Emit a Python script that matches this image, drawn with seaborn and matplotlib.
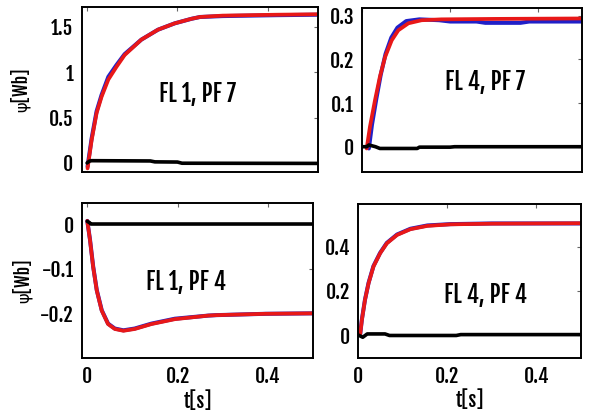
import numpy as np
import pandas as pd
import matplotlib
matplotlib.use("Agg")
import matplotlib.pyplot as plt
import seaborn as sns

# --- flux responses, FL 1 / PF 7 ---
tl_t_red = [0.001, 0.01, 0.021, 0.032, 0.047, 0.065, 0.083, 0.12, 0.157, 0.194, 0.231, 0.25, 0.30, 0.36, 0.42, 0.511]
tl_v_red = [-0.06, 0.25, 0.55, 0.73, 0.92, 1.06, 1.19, 1.36, 1.47, 1.54, 1.59, 1.61, 1.625, 1.63, 1.635, 1.64]
tl_t_blue = [0.001, 0.01, 0.021, 0.032, 0.047, 0.065, 0.083, 0.12, 0.157, 0.194, 0.231, 0.25, 0.30, 0.36, 0.42, 0.511]
tl_v_blue = [-0.04, 0.27, 0.57, 0.75, 0.95, 1.08, 1.20, 1.36, 1.47, 1.54, 1.59, 1.61, 1.62, 1.625, 1.63, 1.635]
tl_t_black = [0.0, 0.005, 0.01, 0.14, 0.15, 0.2, 0.21, 0.511]
tl_v_black = [0.0, 0.02, 0.025, 0.022, 0.012, 0.01, -0.003, -0.005]

# --- FL 4 / PF 7 ---
tr_t_red = [0.01, 0.0175, 0.029, 0.04, 0.052, 0.067, 0.082, 0.105, 0.135, 0.18, 0.3, 0.5]
tr_v_red = [-0.004, 0.046, 0.107, 0.16, 0.206, 0.244, 0.267, 0.283, 0.29, 0.292, 0.293, 0.294]
tr_t_blue = [0.015, 0.022, 0.032, 0.042, 0.053, 0.066, 0.08, 0.1, 0.13, 0.175, 0.2, 0.26, 0.28, 0.36, 0.38, 0.5]
tr_v_blue = [-0.004, 0.05, 0.11, 0.165, 0.213, 0.25, 0.273, 0.288, 0.292, 0.29, 0.287, 0.287, 0.284, 0.284, 0.287, 0.287]
tr_t_black = [0.0, 0.01, 0.015, 0.03, 0.04, 0.125, 0.13, 0.2, 0.21, 0.5]
tr_v_black = [0.0, 0.0, 0.004, 0.0, -0.004, -0.004, -0.001, -0.001, 0.0, 0.0]

# --- FL 1 / PF 4 ---
bl_t_red = [0.0, 0.006, 0.013, 0.021, 0.032, 0.046, 0.061, 0.08, 0.105, 0.142, 0.194, 0.268, 0.286, 0.395, 0.5]
bl_v_red = [0.007, -0.036, -0.096, -0.149, -0.194, -0.224, -0.235, -0.239, -0.235, -0.224, -0.213, -0.205, -0.204, -0.201, -0.2]
bl_t_blue = [0.0, 0.006, 0.013, 0.021, 0.032, 0.046, 0.061, 0.08, 0.105, 0.142, 0.194, 0.268, 0.286, 0.395, 0.5]
bl_v_blue = [0.007, -0.035, -0.095, -0.148, -0.193, -0.223, -0.234, -0.238, -0.234, -0.223, -0.212, -0.205, -0.204, -0.201, -0.2]
bl_t_black = [0.0, 0.005, 0.008, 0.5]
bl_v_black = [0.006, 0.003, 0.0, 0.0]

# --- FL 4 / PF 4 ---
br_t_red = [0.004, 0.008, 0.015, 0.023, 0.034, 0.049, 0.064, 0.087, 0.117, 0.155, 0.207, 0.3, 0.5]
br_v_red = [0.0, 0.068, 0.159, 0.234, 0.31, 0.37, 0.415, 0.453, 0.479, 0.494, 0.501, 0.504, 0.506]
br_t_blue = [0.004, 0.008, 0.015, 0.023, 0.034, 0.049, 0.064, 0.087, 0.117, 0.155, 0.207, 0.3, 0.5]
br_v_blue = [0.0, 0.07, 0.16, 0.236, 0.312, 0.372, 0.417, 0.455, 0.481, 0.496, 0.502, 0.505, 0.505]
br_t_black = [0.0, 0.01, 0.02, 0.06, 0.07, 0.22, 0.23, 0.5]
br_v_black = [0.0, -0.01, 0.005, 0.005, -0.002, -0.002, 0.002, 0.002]

panel_titles = ["FL 1, PF 7", "FL 4, PF 7", "FL 1, PF 4", "FL 4, PF 4"]
x_ticks = [0, 0.2, 0.4]
x_tick_labels = ["0", "0.2", "0.4"]
y_ticks = [[0, 0.5, 1, 1.5], [0, 0.1, 0.2, 0.3], [-0.2, -0.1, 0], [0, 0.2, 0.4]]
y_tick_labels = [["0", "0.5", "1", "1.5"], ["0", "0.1", "0.2", "0.3"],
                 ["-0.2", "-0.1", "0"], ["0", "0.2", "0.4"]]

sns.set_style("white")
FONT = ["Fjalla One", "Barlow Condensed", "Roboto Condensed", "DejaVu Sans"]
plt.rcParams["font.family"] = FONT
plt.rcParams["font.weight"] = "bold"
plt.rcParams["axes.unicode_minus"] = False
plt.rcParams["text.color"] = "black"
plt.rcParams["axes.labelcolor"] = "black"
plt.rcParams["xtick.labelcolor"] = "black"
plt.rcParams["ytick.labelcolor"] = "black"

fig = plt.figure(figsize=(5.94, 4.15), dpi=100)

# axes rectangles in figure fractions
rects = [
    [0.1375, 0.5855, 0.3978, 0.3976],
    [0.6099, 0.5855, 0.3699, 0.3952],
    [0.1386, 0.1373, 0.3884, 0.3735],
    [0.6032, 0.1373, 0.3749, 0.3711],
]
xlims = [(-0.012, 0.511), (0, 0.5), (-0.011, 0.5), (0, 0.5)]
ylims = [(-0.1, 1.72), (-0.058, 0.318), (-0.30, 0.047), (-0.104, 0.593)]
text_pos = [(0.49, 0.47), (0.56, 0.55), (0.45, 0.49), (0.57, 0.41)]

series = [
    (tl_t_blue, tl_v_blue, tl_t_red, tl_v_red, tl_t_black, tl_v_black),
    (tr_t_blue, tr_v_blue, tr_t_red, tr_v_red, tr_t_black, tr_v_black),
    (bl_t_blue, bl_v_blue, bl_t_red, bl_v_red, bl_t_black, bl_v_black),
    (br_t_blue, br_v_blue, br_t_red, br_v_red, br_t_black, br_v_black),
]

BLUE = "#2020c8"
RED = "#e81818"

for i, (rect, (tb, vb, tr, vr, tk, vk)) in enumerate(zip(rects, series)):
    ax = fig.add_axes(rect)
    sns.lineplot(x=tb, y=vb, ax=ax, color=BLUE, lw=2.9, sort=False)
    sns.lineplot(x=tr, y=vr, ax=ax, color=RED, lw=2.7, sort=False)
    sns.lineplot(x=tk, y=vk, ax=ax, color="black", lw=2.6, sort=False)
    ax.set_xlim(*xlims[i])
    ax.set_ylim(*ylims[i])
    ax.set_xticks(x_ticks)
    ax.set_yticks(y_ticks[i])
    ax.set_yticklabels(y_tick_labels[i], fontsize=14)
    if i >= 2:
        ax.set_xticklabels(x_tick_labels, fontsize=14)
        ax.set_xlabel("t[s]", fontsize=14)
        ax.xaxis.set_label_coords(0.5, -0.21)
    else:
        ax.set_xticklabels([])
        ax.set_xlabel("")
    if i in (0, 2):
        ax.set_ylabel("ψ[Wb]", fontsize=12.5, family=FONT)
        ax.yaxis.set_label_coords(-0.215, 0.5)
    else:
        ax.set_ylabel("")
    ax.tick_params(direction="in", length=3, width=0.8, color="#666666",
                   top=True, right=True, pad=6)
    for sp in ax.spines.values():
        sp.set_visible(True)
        sp.set_color("black")
        sp.set_linewidth(1.4)
    ax.text(*text_pos[i], panel_titles[i], transform=ax.transAxes,
            ha="center", va="center", fontsize=16.5)

fig.savefig("out.png", dpi=100, facecolor="white")
